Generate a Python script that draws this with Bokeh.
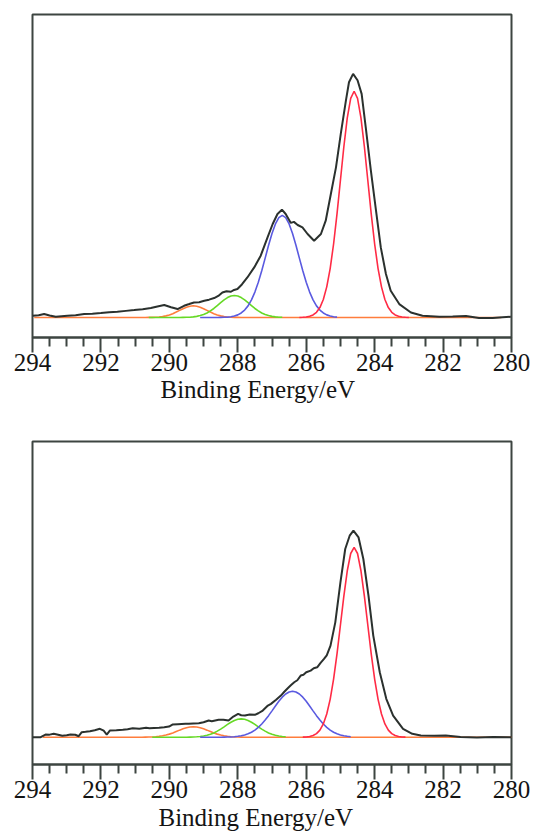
from bokeh.plotting import figure
from bokeh.models import Range1d, FixedTicker, Title
from bokeh.layouts import column
from bokeh.embed import file_html
from bokeh.resources import INLINE

# ---------------- tick values ----------------
MAJOR_TICKS = [280, 282, 284, 286, 288, 290, 292, 294]
MINOR_TICKS = [280.5, 281, 281.5, 282.5, 283, 283.5, 284.5, 285, 285.5, 286.5, 287, 287.5,
               288.5, 289, 289.5, 290.5, 291, 291.5, 292.5, 293, 293.5]
X_LABEL = "Binding Energy/eV"

# ---------------- top panel ----------------
TOP_BLACK_E = [280.02, 280.26, 280.55, 280.95, 281.33, 281.72, 282.11, 282.60, 282.94, 283.28,
               283.53, 283.67, 283.82, 283.96, 284.11, 284.26, 284.38, 284.50, 284.63, 284.75,
               284.84, 284.99, 285.13, 285.28, 285.43, 285.57, 285.77, 285.96, 286.11, 286.25,
               286.36, 286.45, 286.60, 286.71, 286.84, 286.98, 287.13, 287.33, 287.52, 287.72,
               287.88, 288.01, 288.11, 288.20, 288.33, 288.45, 288.57, 288.69, 288.84, 288.98,
               289.13, 289.28, 289.42, 289.57, 289.76, 289.95, 290.15, 290.35, 290.54, 290.78,
               291.03, 291.27, 291.52, 291.76, 292.00, 292.25, 292.49, 292.74, 292.98, 293.15,
               293.32, 293.50, 293.66, 293.82, 294.00]
TOP_BLACK_I = [0.7, 0.2, -0.5, -0.5, 1.5, 0.9, 0.7, 1.8, 5.0, 13.4,
               26.7, 43.4, 70.0, 106.7, 146.7, 190.0, 223.4, 237.0, 243.4, 235.0,
               216.7, 183.4, 150.0, 123.4, 96.7, 83.4, 76.7, 83.4, 90.0, 92.4,
               95.5, 94.5, 103.4, 107.7, 103.4, 93.4, 80.0, 61.7, 50.0, 40.0,
               33.0, 28.4, 27.5, 25.7, 26.2, 25.0, 21.5, 19.4, 17.8, 16.7,
               15.3, 15.0, 13.4, 11.7, 8.4, 10.2, 12.4, 11.0, 9.4, 8.3,
               7.4, 6.6, 5.7, 5.2, 4.4, 3.8, 3.4, 2.3, 1.7, 1.2,
               0.7, 2.0, 3.4, 2.2, 1.7]

TOP_RED_E = [283.0, 283.1, 283.2, 283.3, 283.4, 283.5, 283.6, 283.7, 283.8, 283.9, 284.0,
             284.1, 284.2, 284.3, 284.4, 284.5, 284.6, 284.7, 284.8, 284.9, 285.0, 285.1,
             285.2, 285.3, 285.4, 285.5, 285.6, 285.7, 285.8, 285.9, 286.0, 286.1, 286.2]
TOP_RED_I = [0.0, 0.2, 0.5, 1.2, 2.5, 5.2, 9.9, 18.0, 30.6, 48.9, 73.4,
             103.5, 137.1, 170.6, 199.4, 219.0, 226.0, 219.0, 199.4, 170.6, 137.1, 103.5,
             73.4, 48.9, 30.6, 18.0, 9.9, 5.2, 2.5, 1.2, 0.5, 0.2, 0.0]

TOP_BLUE_E = [285.1, 285.2, 285.3, 285.4, 285.5, 285.6, 285.7, 285.8, 285.9, 286.0,
              286.1, 286.2, 286.3, 286.4, 286.5, 286.6, 286.7, 286.8, 286.9, 287.0,
              287.1, 287.2, 287.3, 287.4, 287.5, 287.6, 287.7, 287.8, 287.9, 288.0,
              288.1, 288.2, 288.3, 288.4, 288.5, 288.6, 289.1]
TOP_BLUE_I = [0.4, 0.8, 1.4, 2.6, 4.5, 7.4, 11.6, 17.6, 25.4, 35.2,
              46.7, 59.3, 72.1, 83.9, 93.5, 99.8, 102.0, 99.8, 93.5, 83.9,
              72.1, 59.3, 46.7, 35.2, 25.4, 17.6, 11.6, 7.4, 4.5, 2.6,
              1.4, 0.8, 0.4, 0.2, 0.1, 0.0, 0.0]

TOP_GREEN_E = [286.7, 286.8, 286.9, 287.0, 287.1, 287.2, 287.3, 287.4, 287.5, 287.6,
               287.7, 287.8, 287.9, 288.0, 288.1, 288.2, 288.3, 288.4, 288.5, 288.6,
               288.7, 288.8, 288.9, 289.0, 289.1, 289.2, 289.3, 289.4, 289.5, 289.6,
               289.7, 290.6]
TOP_GREEN_I = [0.2, 0.3, 0.6, 1.1, 1.9, 3.0, 4.5, 6.6, 9.0, 11.9,
               14.8, 17.6, 19.9, 21.5, 22.0, 21.5, 19.9, 17.6, 14.8, 11.9,
               9.0, 6.6, 4.5, 3.0, 1.9, 1.1, 0.6, 0.3, 0.2, 0.1,
               0.0, 0.0]

TOP_ORANGE_E = [280.3, 287.9, 288.0, 288.1, 288.2, 288.3, 288.4, 288.5, 288.6, 288.7,
                288.8, 288.9, 289.0, 289.1, 289.2, 289.3, 289.4, 289.5, 289.6, 289.7,
                289.8, 289.9, 290.0, 290.1, 290.2, 290.3, 290.4, 290.5, 290.6, 290.7,
                293.95]
TOP_ORANGE_I = [0.0, 0.0, 0.1, 0.1, 0.3, 0.5, 0.9, 1.6, 2.5, 3.8,
                5.4, 7.1, 8.8, 10.3, 11.3, 11.7, 11.3, 10.3, 8.8, 7.1,
                5.4, 3.8, 2.5, 1.6, 0.9, 0.5, 0.3, 0.1, 0.1, 0.0,
                0.0]

# ---------------- bottom panel ----------------
BOT_BLACK_E = [280.00, 280.53, 281.01, 281.49, 281.92, 282.26, 282.65, 282.90, 283.17, 283.46,
               283.66, 283.85, 284.04, 284.18, 284.33, 284.47, 284.62, 284.73, 284.86, 285.00,
               285.15, 285.29, 285.40, 285.48, 285.58, 285.68, 285.78, 285.87, 286.00, 286.08,
               286.16, 286.26, 286.35, 286.45, 286.54, 286.64, 286.74, 286.88, 287.03, 287.12,
               287.27, 287.40, 287.50, 287.65, 287.79, 287.90, 287.99, 288.13, 288.27, 288.42,
               288.56, 288.76, 288.85, 289.00, 289.14, 289.30, 289.43, 289.53, 289.75, 289.91,
               290.01, 290.15, 290.30, 290.45, 290.58, 290.68, 290.88, 291.07, 291.22, 291.36,
               291.55, 291.74, 291.83, 291.92, 292.03, 292.18, 292.32, 292.45, 292.56, 292.65,
               292.75, 292.89, 293.00, 293.13, 293.25, 293.38, 293.50, 293.62, 293.76, 294.00]
BOT_BLACK_I = [0.0, 0.3, -0.2, 0.2, 1.7, 1.5, 1.7, 3.4, 8.4, 21.7,
               38.4, 65.0, 101.7, 141.7, 178.4, 200.0, 206.7, 201.7, 188.4, 155.0,
               115.0, 91.7, 82.0, 78.4, 74.5, 70.0, 69.0, 66.7, 65.0, 62.5,
               61.7, 57.0, 55.0, 52.0, 49.0, 45.5, 41.7, 37.5, 33.4, 31.7,
               26.7, 24.0, 22.4, 22.8, 21.7, 22.0, 23.4, 20.7, 16.7, 17.6,
               17.4, 16.0, 16.7, 15.0, 14.0, 13.8, 13.4, 13.4, 13.0, 12.7,
               10.7, 10.0, 9.4, 9.2, 9.0, 9.4, 8.6, 9.0, 8.0, 7.4,
               7.0, 6.7, 2.7, 6.5, 8.4, 7.0, 6.0, 5.4, 5.0, 1.0,
               2.5, 2.7, 2.0, 1.4, 2.4, 3.4, 2.6, 2.7, 0.0, 0.0]

BOT_RED_E = [283.1, 283.2, 283.3, 283.4, 283.5, 283.6, 283.7, 283.8, 283.9, 284.0,
             284.1, 284.2, 284.3, 284.4, 284.5, 284.6, 284.7, 284.8, 284.9, 285.0,
             285.1, 285.2, 285.3, 285.4, 285.5, 285.6, 285.7, 285.8, 285.9, 286.0, 286.1]
BOT_RED_I = [0.1, 0.3, 0.7, 1.7, 3.6, 7.1, 13.3, 23.2, 37.9, 58.2,
             83.5, 112.3, 141.3, 166.6, 183.9, 190.0, 183.9, 166.6, 141.3, 112.3,
             83.5, 58.2, 37.9, 23.2, 13.3, 7.1, 3.6, 1.7, 0.7, 0.3, 0.1]

BOT_BLUE_E = [284.7, 284.8, 284.9, 285.0, 285.1, 285.2, 285.3, 285.4, 285.5, 285.6,
              285.7, 285.8, 285.9, 286.0, 286.1, 286.2, 286.3, 286.4, 286.5, 286.6,
              286.7, 286.8, 286.9, 287.0, 287.1, 287.2, 287.3, 287.4, 287.5, 287.6,
              287.7, 287.8, 287.9, 288.0, 288.1, 288.2, 288.3, 288.4, 288.5, 289.1]
BOT_BLUE_I = [0.5, 0.9, 1.4, 2.3, 3.4, 5.0, 7.1, 9.9, 13.2, 17.2,
              21.6, 26.4, 31.3, 36.0, 40.1, 43.3, 45.3, 46.0, 45.3, 43.3,
              40.1, 36.0, 31.3, 26.4, 21.6, 17.2, 13.2, 9.9, 7.1, 5.0,
              3.4, 2.3, 1.4, 0.9, 0.5, 0.3, 0.2, 0.1, 0.0, 0.0]

BOT_GREEN_E = [286.6, 286.7, 286.8, 286.9, 287.0, 287.1, 287.2, 287.3, 287.4, 287.5,
               287.6, 287.7, 287.8, 287.9, 288.0, 288.1, 288.2, 288.3, 288.4, 288.5,
               288.6, 288.7, 288.8, 288.9, 289.0, 289.1, 289.2, 289.3, 289.4, 289.5, 290.5]
BOT_GREEN_I = [0.4, 0.7, 1.2, 1.9, 2.9, 4.3, 6.1, 8.1, 10.4, 12.8,
               15.0, 16.8, 18.0, 18.4, 18.0, 16.8, 15.0, 12.8, 10.4, 8.1,
               6.1, 4.3, 2.9, 1.9, 1.2, 0.7, 0.4, 0.2, 0.1, 0.0, 0.0]

BOT_ORANGE_E = [280.0, 287.8, 287.9, 288.0, 288.1, 288.2, 288.3, 288.4, 288.5, 288.6,
                288.7, 288.8, 288.9, 289.0, 289.1, 289.2, 289.3, 289.4, 289.5, 289.6,
                289.7, 289.8, 289.9, 290.0, 290.1, 290.2, 290.3, 290.4, 290.5, 290.6,
                290.7, 290.8, 293.7]
BOT_ORANGE_I = [0.0, 0.0, 0.1, 0.2, 0.3, 0.5, 0.9, 1.4, 2.2, 3.1,
                4.3, 5.7, 7.1, 8.4, 9.5, 10.2, 10.5, 10.2, 9.5, 8.4,
                7.1, 5.7, 4.3, 3.1, 2.2, 1.4, 0.9, 0.5, 0.3, 0.2,
                0.1, 0.0, 0.0]

# ---------------- styling ----------------
FRAME = "#3d4541"
BLACK = "#2b312e"
RED = "#ff2b45"
BLUE = "#5a5ae0"
GREEN = "#66d926"
ORANGE = "#ff7d3c"
FONT = "Liberation Serif"
TEXT = "#141414"


def make_panel(height, y_lo, y_hi, border_right, border_top, border_bottom,
               black, red, blue, green, orange, label_offset, label_standoff):
    p = figure(width=535, height=height, x_range=Range1d(294, 280),
               y_range=Range1d(y_lo, y_hi), output_backend="svg",
               toolbar_location=None, min_border_left=32, min_border_right=border_right,
               min_border_top=border_top, min_border_bottom=border_bottom)
    p.background_fill_color = "white"
    p.border_fill_color = "white"
    p.xgrid.visible = False
    p.ygrid.visible = False
    p.yaxis.visible = False
    p.outline_line_color = FRAME
    p.outline_line_width = 2
    p.outline_line_alpha = 1.0
    ax = p.xaxis[0]
    ax.ticker = FixedTicker(ticks=MAJOR_TICKS, minor_ticks=MINOR_TICKS)
    ax.axis_line_color = FRAME
    ax.axis_line_width = 2
    ax.major_tick_line_color = FRAME
    ax.major_tick_line_width = 2
    ax.minor_tick_line_color = FRAME
    ax.minor_tick_line_width = 2
    ax.major_tick_in = 0
    ax.major_tick_out = 15
    ax.minor_tick_in = 0
    ax.minor_tick_out = 9
    ax.major_label_text_font = FONT
    ax.major_label_text_font_size = "25px"
    ax.major_label_text_color = TEXT
    ax.major_label_standoff = 1

    p.line(orange[0], orange[1], line_color=ORANGE, line_width=1.6)
    p.line(green[0], green[1], line_color=GREEN, line_width=1.6)
    p.line(blue[0], blue[1], line_color=BLUE, line_width=1.6)
    p.line(red[0], red[1], line_color=RED, line_width=1.6)
    p.line(black[0], black[1], line_color=BLACK, line_width=2.0)

    t = Title(text=X_LABEL, align="left", offset=label_offset, standoff=label_standoff,
              text_font=FONT, text_font_size="25px", text_font_style="normal",
              text_color=TEXT)
    p.add_layout(t, "below")
    return p


top = make_panel(420, -20, 302.7, 24, 14, 83,
                 (TOP_BLACK_E, TOP_BLACK_I), (TOP_RED_E, TOP_RED_I), (TOP_BLUE_E, TOP_BLUE_I),
                 (TOP_GREEN_E, TOP_GREEN_I), (TOP_ORANGE_E, TOP_ORANGE_I), 128, 0)
bottom = make_panel(419, -27.3, 296, 18, 21, 75,
                    (BOT_BLACK_E, BOT_BLACK_I), (BOT_RED_E, BOT_RED_I), (BOT_BLUE_E, BOT_BLUE_I),
                    (BOT_GREEN_E, BOT_GREEN_I), (BOT_ORANGE_E, BOT_ORANGE_I), 126, 3)

layout = column(top, bottom, spacing=0)
open("out.html", "w").write(file_html(layout, INLINE))
